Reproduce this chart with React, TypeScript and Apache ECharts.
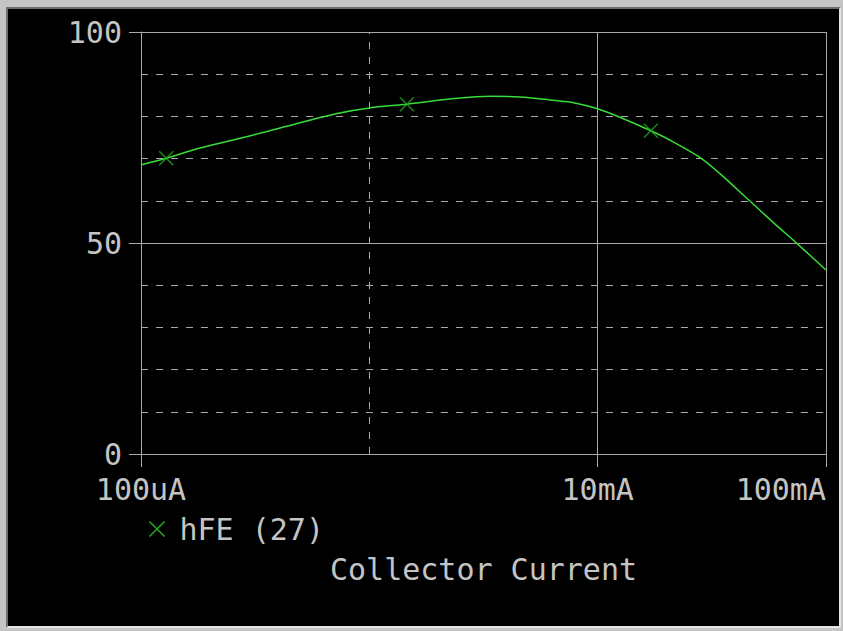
import React, { useEffect, useRef } from 'react';
import * as echarts from 'echarts';

// Collector current in mA (log axis) and hFE values
const currentsMA = [0.1, 0.129, 0.181, 0.253, 0.367, 0.497, 0.743, 1.0, 1.46, 2.25, 3.37, 4.56, 6.17, 7.93, 10, 12.5, 17.1, 20.7, 28.0, 34.2, 46.3, 59.5, 72.8, 89.1, 100];
const hfeValues = [68.5, 70.1, 72.5, 74.4, 76.6, 78.5, 80.8, 82.0, 82.9, 84.1, 84.8, 84.6, 83.9, 83.2, 81.8, 79.8, 76.6, 74.4, 70.3, 66.5, 60.0, 54.6, 50.4, 46.1, 43.6];

// Marker (×) positions on the trace
const markerCurrentsMA = [0.129, 1.46, 17.1];
const markerHfe = [70.1, 82.9, 76.6];

// Axis ticks and labels
const xTickValues = [0.1, 10, 100];
const xTickLabels = ['100uA', '10mA', '100mA'];
const yTickValues = [0, 50, 100];
const seriesName = 'hFE (27)';
const xAxisTitle = 'Collector Current';

export default function App() {
  const ref = useRef<HTMLDivElement>(null);

  useEffect(() => {
    const chart = echarts.init(ref.current!, null, { renderer: 'svg' });
    const grey = '#a8a8a8';
    const textColor = '#c4c4c4';
    const lineGreen = '#38dc38';
    const markGreen = '#22a822';
    const font = "'DejaVu Sans Mono', monospace";
    const xPath = 'path://M0,0L10,10M10,0L0,10';

    const xLabel = (v: number) => {
      for (let i = 0; i < xTickValues.length; i++) {
        if (Math.abs(Math.log10(v) - Math.log10(xTickValues[i])) < 0.01) return xTickLabels[i];
      }
      return '';
    };

    chart.setOption({
      animation: false,
      backgroundColor: 'transparent',
      textStyle: { fontFamily: font },
      grid: { left: 141, top: 32, right: 17, bottom: 177, containLabel: false, outerBoundsMode: 'none' },
      legend: {
        left: 147,
        top: 514,
        padding: 0,
        itemWidth: 15,
        itemHeight: 15,
        selectedMode: false,
        data: [{
          name: seriesName,
          icon: xPath,
          itemStyle: { color: 'none', borderColor: markGreen, borderWidth: 1.5 },
        }],
        textStyle: { color: textColor, fontSize: 30, fontFamily: font, padding: [0, 0, 0, 10] },
      },
      xAxis: {
        type: 'log',
        logBase: 10,
        min: 0.1,
        max: 100,
        axisLine: { show: true, lineStyle: { color: grey, width: 1 } },
        axisTick: { show: true, length: 13, customValues: xTickValues, lineStyle: { color: grey, width: 1 } },
        minorTick: { show: false },
        minorSplitLine: { show: false },
        splitLine: { show: false },
        axisLabel: {
          customValues: xTickValues,
          formatter: xLabel,
          color: textColor,
          fontSize: 30,
          fontFamily: font,
          margin: 20,
          alignMaxLabel: 'right',
          showMinLabel: true,
          showMaxLabel: true,
        },
        name: xAxisTitle,
        nameLocation: 'middle',
        nameGap: 100,
        nameTextStyle: { color: textColor, fontSize: 30, fontFamily: font },
      },
      yAxis: [
        {
          type: 'value',
          min: 0,
          max: 100,
          interval: 10,
          axisLine: { show: false },
          axisTick: { show: false },
          axisLabel: { show: false },
          splitLine: { show: true, lineStyle: { color: grey, width: 1, type: [7, 8] } },
        },
        {
          type: 'value',
          position: 'left',
          min: 0,
          max: 100,
          interval: 50,
          axisLine: { show: true, lineStyle: { color: grey, width: 1 } },
          axisTick: { show: true, length: 12, customValues: yTickValues, lineStyle: { color: grey, width: 1 } },
          axisLabel: { color: textColor, fontSize: 30, fontFamily: font, margin: 19 },
          splitLine: { show: true, lineStyle: { color: grey, width: 1, type: 'solid' } },
        },
      ],
      series: [
        {
          name: seriesName,
          type: 'line',
          yAxisIndex: 1,
          data: currentsMA.map((c, i) => [c, hfeValues[i]]),
          showSymbol: false,
          symbol: 'none',
          smooth: 0.3,
          lineStyle: { color: lineGreen, width: 1.5 },
          itemStyle: { color: lineGreen },
          z: 5,
          markLine: {
            silent: true,
            symbol: ['none', 'none'],
            label: { show: false },
            emphasis: { disabled: true },
            lineStyle: { color: grey, width: 1, type: 'solid' },
            data: [
              { xAxis: 1, lineStyle: { color: grey, width: 1, type: [7, 8] } },
              { xAxis: 10 },
              { xAxis: 100 },
            ],
          },
        },
        {
          name: seriesName,
          type: 'scatter',
          yAxisIndex: 1,
          data: markerCurrentsMA.map((c, i) => [c, markerHfe[i]]),
          symbol: xPath,
          symbolSize: 14,
          itemStyle: { color: 'none', borderColor: markGreen, borderWidth: 1.5 },
          z: 6,
        },
      ],
    });
    return () => chart.dispose();
  }, []);

  return (
    <div style={{ position: 'fixed', left: 0, top: 0, width: 843, height: 631, background: '#c4c4c4', overflow: 'hidden' }}>
      <div
        style={{
          position: 'absolute',
          left: 6,
          top: 7,
          width: 831,
          height: 617,
          background: '#000',
          borderStyle: 'solid',
          borderWidth: 2,
          borderColor: '#6e6e6e #e6e6e6 #e6e6e6 #6e6e6e',
        }}
      />
      <div ref={ref} style={{ position: 'absolute', left: 0, top: 0, width: 843, height: 631 }} />
    </div>
  );
}
